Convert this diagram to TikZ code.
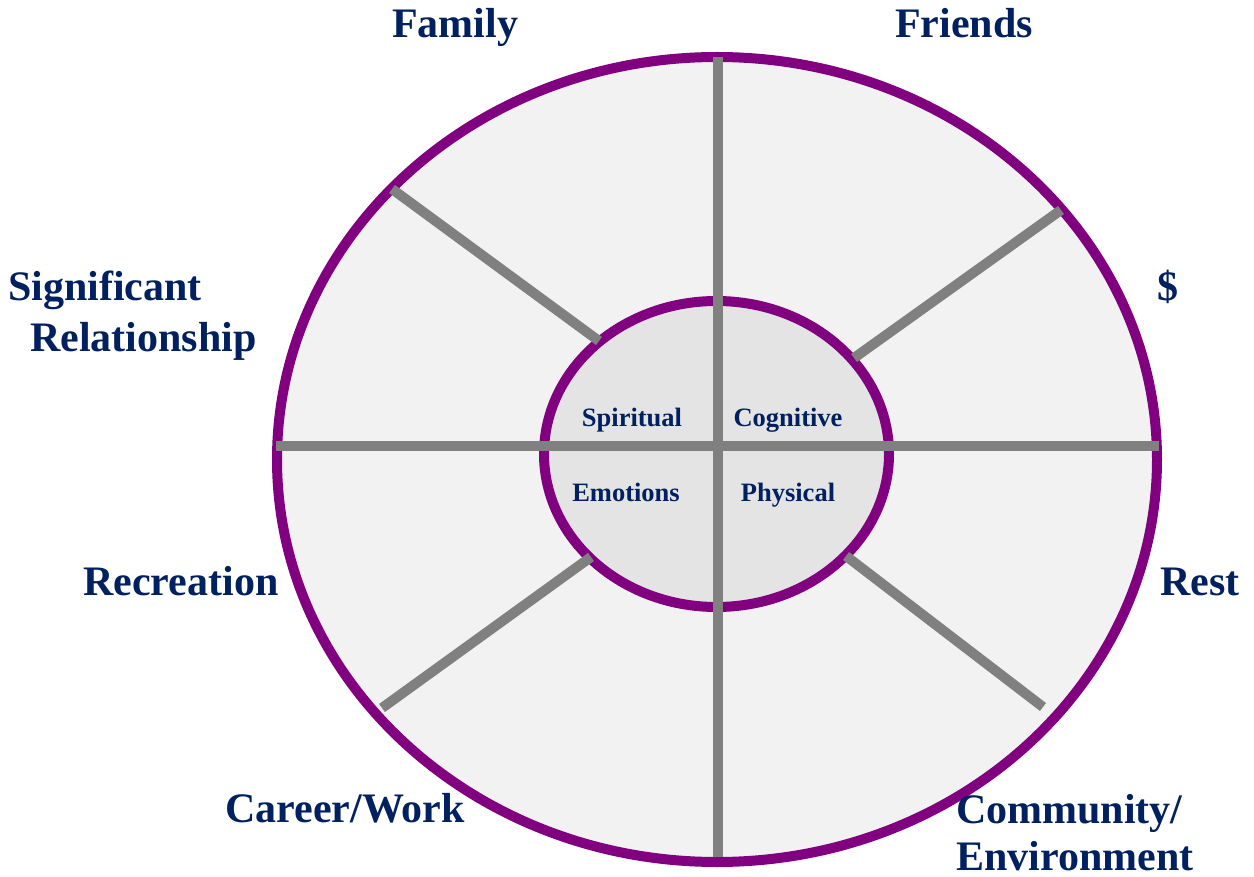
\documentclass[tikz,border=0pt]{standalone}
\usepackage{fontspec}
\setmainfont{Liberation Serif}
\usetikzlibrary{shapes.geometric}
\definecolor{rimpurple}{HTML}{800080}
\definecolor{spokegray}{HTML}{808080}
\definecolor{outerfill}{HTML}{F2F2F2}
\definecolor{innerfill}{HTML}{E4E4E4}
\definecolor{labelnavy}{HTML}{002060}
\begin{document}
\begin{tikzpicture}[x=1pt,y=-1pt,
  rim/.style={ellipse,draw=rimpurple,line width=10pt,inner sep=0pt},
  spoke/.style={draw=spokegray,line width=10pt},
  bigl/.style={text=labelnavy,font=\fontsize{42}{50}\selectfont\bfseries,anchor=base,inner sep=0pt},
  smalll/.style={text=labelnavy,font=\fontsize{26.5}{30}\selectfont\bfseries,anchor=base,inner sep=0pt}]
\useasboundingbox (0,0) rectangle (1254,877);

% wheel rims
\node[rim,fill=outerfill,minimum width=880pt,minimum height=805pt] (outer) at (717,459.5) {};
\node[rim,fill=innerfill,minimum width=345pt,minimum height=306pt] (inner) at (716.5,454) {};

% spoke end points
\coordinate (vt) at (718,57);
\coordinate (vb) at (718,857);
\coordinate (hl) at (276,446);
\coordinate (hr) at (1159,446);
\coordinate (nwo) at (392,189);
\coordinate (nwi) at (599,341);
\coordinate (neo) at (1061,210);
\coordinate (nei) at (854,358);
\coordinate (swo) at (382,708);
\coordinate (swi) at (591,557);
\coordinate (seo) at (1043,707);
\coordinate (sei) at (846,556);

\draw[spoke] (vt) -- (vb);
\draw[spoke] (hl) -- (hr);
\draw[spoke] (nwo) -- (nwi);
\draw[spoke] (neo) -- (nei);
\draw[spoke] (swo) -- (swi);
\draw[spoke] (seo) -- (sei);

% inner quadrant labels
\node[smalll] (spiritual) at (632,427) {Spiritual};
\node[smalll] (cognitive) at (788,427) {Cognitive};
\node[smalll] (emotions) at (626,501) {Emotions};
\node[smalll] (physical) at (788,501) {Physical};

% outer segment labels
\node[bigl] (family) at (455,38) {Family};
\node[bigl] (friends) at (964,38) {Friends};
\node[bigl,anchor=base west] (signif) at (8,301) {Significant};
\node[bigl,anchor=base west] (relation) at (30,352) {Relationship};
\node[bigl,anchor=base west] (money) at (1157,301) {\$};
\node[bigl,anchor=base west] (recreation) at (83,595) {Recreation};
\node[bigl,anchor=base west] (rest) at (1160,595) {Rest};
\node[bigl,anchor=base west] (career) at (225,822) {Career/Work};
\node[bigl,anchor=base west] (community) at (956,823) {Community/};
\node[bigl,anchor=base west] (environment) at (956,870) {Environment};
\end{tikzpicture}
\end{document}
